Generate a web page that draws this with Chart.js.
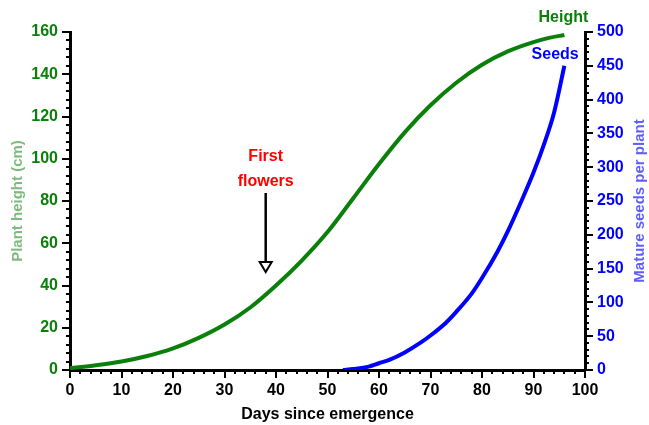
<!DOCTYPE html>
<html>
<head>
<meta charset="utf-8">
<script src="https://cdn.jsdelivr.net/npm/chart.js@4"></script>
<style>
  html, body { margin: 0; padding: 0; background: #fff; }
</style>
</head>
<body>
<canvas id="chartContainer" width="649" height="425"></canvas>
<script>
// data
var heightDays = [0, 5, 10, 15, 20, 25, 30, 35, 40, 45, 50, 55, 60, 65, 70, 75, 80, 85, 90, 93, 96];
var heightCm = [0.8, 2.2, 4.0, 6.6, 10.2, 15.2, 21.5, 29.6, 40.0, 51.8, 65.3, 81.3, 97.5, 112.5, 125.3, 136.0, 144.5, 150.8, 155.2, 157.2, 158.6];
var seedDays = [53, 55, 58, 60, 62, 65, 68, 70, 73, 75, 78, 80, 83, 85, 88, 90, 92, 94, 96];
var seedCount = [0, 1.5, 5, 10, 15, 26, 40, 51, 70, 86, 113, 136, 175, 205, 256, 292, 333, 381, 450];
var xTicks = [0, 10, 20, 30, 40, 50, 60, 70, 80, 90, 100];
var leftTicks = [0, 20, 40, 60, 80, 100, 120, 140, 160];
var rightTicks = [0, 50, 100, 150, 200, 250, 300, 350, 400, 450, 500];

var GREEN = '#0a800a';
var BLUE = '#0000ff';
var FONT = "'Liberation Sans', Arial, sans-serif";
Chart.defaults.font.family = FONT;

function toPoints(xs, ys) {
    return xs.map(function (x, i) { return { x: x, y: ys[i] }; });
}

// minor ticks, labels, arrow, right title
var extras = {
    id: 'extras',
    afterDraw: function (chart) {
        var c = chart.ctx;
        var sx = chart.scales.x, sy = chart.scales.y, sr = chart.scales.y2;
        c.save();
        c.strokeStyle = '#000';
        c.lineWidth = 2;
        c.beginPath();
        for (var v = 0; v <= 100; v += 2) {
            if (v % 10 === 0) continue;
            var px = Math.round(sx.getPixelForValue(v));
            c.moveTo(px, sx.top); c.lineTo(px, sx.top + 4);
        }
        for (var v = 0; v <= 160; v += 4) {
            if (v % 20 === 0) continue;
            var py = Math.round(sy.getPixelForValue(v));
            c.moveTo(sy.right, py); c.lineTo(sy.right - 4, py);
        }
        for (var v = 0; v <= 500; v += 10) {
            if (v % 50 === 0) continue;
            var py = Math.round(sr.getPixelForValue(v));
            c.moveTo(sr.left, py); c.lineTo(sr.left + 4, py);
        }
        c.stroke();

        c.font = 'bold 16px ' + FONT;
        c.textAlign = 'center';
        c.textBaseline = 'middle';
        c.fillStyle = GREEN;
        c.fillText('Height', sx.getPixelForValue(95.8), 18);
        c.fillStyle = BLUE;
        c.fillText('Seeds', sx.getPixelForValue(94.2), 55);
        c.fillStyle = '#ff0000';
        var ax = sx.getPixelForValue(38);
        c.fillText('First', ax, 157);
        c.fillText('flowers', ax, 182);

        // arrow
        c.strokeStyle = '#000';
        c.lineWidth = 2.5;
        c.beginPath();
        c.moveTo(ax, 193); c.lineTo(ax, 262);
        c.stroke();
        c.lineWidth = 2;
        c.beginPath();
        c.moveTo(ax - 6, 262); c.lineTo(ax + 6, 262); c.lineTo(ax, 272); c.closePath();
        c.stroke();

        // right axis title reads bottom to top
        c.translate(640, (chart.chartArea.top + chart.chartArea.bottom) / 2);
        c.rotate(-Math.PI / 2);
        c.font = 'bold 15px ' + FONT;
        c.fillStyle = 'rgba(40,40,255,0.75)';
        c.fillText('Mature seeds per plant', 0, 0);
        c.restore();
    }
};

var ctx = document.getElementById('chartContainer').getContext('2d');
var chart = new Chart(ctx, {
    type: 'line',
    data: {
        datasets: [{
            label: 'Height',
            data: toPoints(heightDays, heightCm),
            borderColor: GREEN,
            borderWidth: 4,
            pointRadius: 0,
            cubicInterpolationMode: 'monotone',
            yAxisID: 'y'
        }, {
            label: 'Seeds',
            data: toPoints(seedDays, seedCount),
            borderColor: BLUE,
            borderWidth: 4,
            pointRadius: 0,
            cubicInterpolationMode: 'monotone',
            yAxisID: 'y2'
        }]
    },
    options: {
        responsive: false,
        animation: false,
        layout: { padding: { top: 32, left: 0, right: 0, bottom: 0 } },
        plugins: { legend: { display: false }, tooltip: { enabled: false } },
        scales: {
            x: {
                type: 'linear', min: 0, max: 100,
                afterFit: function (s) { s.height = 55; },
                afterBuildTicks: function (s) { s.ticks = xTicks.map(function (v) { return { value: v }; }); },
                ticks: { color: '#000', font: { size: 16, weight: 'bold' }, padding: 3, maxRotation: 0 },
                grid: { drawOnChartArea: false, tickLength: 8, lineWidth: 2, color: '#000' },
                border: { color: '#000', width: 3 },
                title: { display: true, text: 'Days since emergence', color: '#000', font: { size: 16, weight: 'bold' }, padding: { top: 0, bottom: 1 } }
            },
            y: {
                position: 'left', min: 0, max: 160,
                afterFit: function (s) { s.width = 70; },
                afterBuildTicks: function (s) { s.ticks = leftTicks.map(function (v) { return { value: v }; }); },
                ticks: { color: GREEN, font: { size: 16, weight: 'bold' }, padding: 4 },
                grid: { drawOnChartArea: false, tickLength: 8, lineWidth: 2, color: '#000' },
                border: { color: '#000', width: 3 },
                title: { display: true, text: 'Plant height (cm)', color: 'rgba(20,130,20,0.55)', font: { size: 15, weight: 'bold' }, padding: { top: 9, bottom: 0 } }
            },
            y2: {
                position: 'right', min: 0, max: 500,
                afterFit: function (s) { s.width = 64; },
                afterBuildTicks: function (s) { s.ticks = rightTicks.map(function (v) { return { value: v }; }); },
                ticks: { color: BLUE, font: { size: 16, weight: 'bold' }, padding: 4 },
                grid: { drawOnChartArea: false, tickLength: 8, lineWidth: 2, color: '#000' },
                border: { color: '#000', width: 3 }
            }
        }
    },
    plugins: [extras]
});
</script>
</body>
</html>
